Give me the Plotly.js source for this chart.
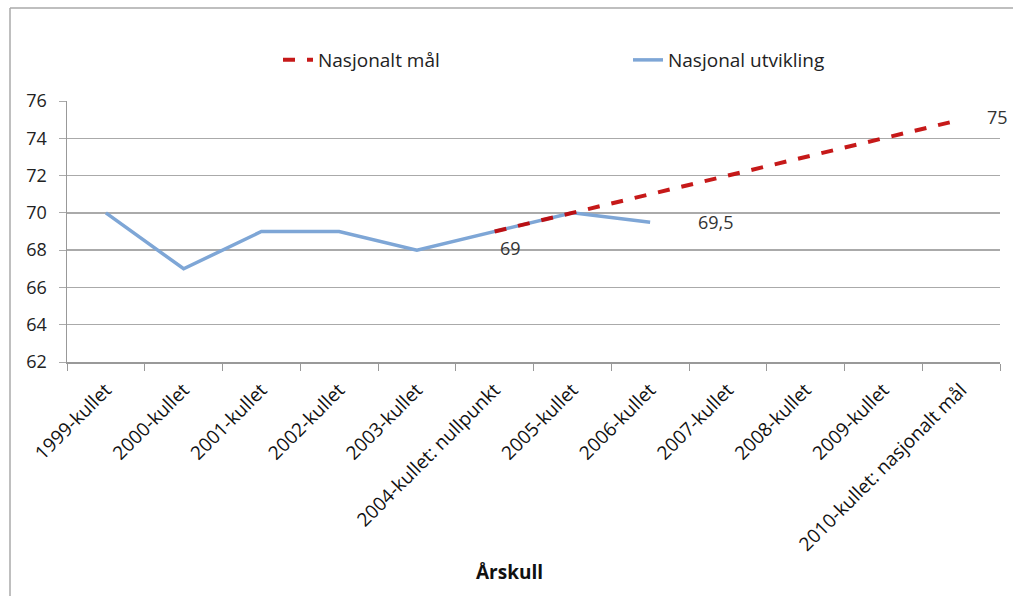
<!DOCTYPE html>
<html>
<head>
<meta charset="utf-8">
<script src="https://cdn.plot.ly/plotly-3.0.1.min.js"></script>
<style>html,body{margin:0;padding:0;background:#fff;}#chart{width:1013px;height:596px;}</style>
</head>
<body>
<div id="chart"></div>
<script>
const categories = ["1999-kullet","2000-kullet","2001-kullet","2002-kullet","2003-kullet","2004-kullet: nullpunkt","2005-kullet","2006-kullet","2007-kullet","2008-kullet","2009-kullet","2010-kullet: nasjonalt mål"];
const utviklingX = ["1999-kullet","2000-kullet","2001-kullet","2002-kullet","2003-kullet","2004-kullet: nullpunkt","2005-kullet","2006-kullet"];
const utviklingY = [70, 67, 69, 69, 68, 69, 70, 69.5];
const maalX = ["2004-kullet: nullpunkt","2005-kullet","2006-kullet","2007-kullet","2008-kullet","2009-kullet","2010-kullet: nasjonalt mål"];
const maalY = [69, 70, 71, 72, 73, 74, 75];
const yTicks = [62, 64, 66, 68, 70, 72, 74, 76];

const font = "'Open Sans', Lato, sans-serif";
const traces = [
  {x: utviklingX, y: utviklingY, type: "scatter", mode: "lines", name: "Nasjonal utvikling",
   line: {color: "#7EA6D6", width: 3.5}, legendrank: 2, hoverinfo: "skip"},
  {x: maalX, y: maalY, type: "scatter", mode: "lines", name: "Nasjonalt mål",
   line: {color: "#C00000", width: 4, dash: "dash"}, legendrank: 1, hoverinfo: "skip", opacity: 0.9}
];
const annotations = [
  {x: maalX[0], y: maalY[0], text: String(maalY[0]), showarrow: false, xshift: 16, yshift: -16, font: {family: font, size: 18, color: "#333"}},
  {x: utviklingX[7], y: utviklingY[7], text: String(utviklingY[7]).replace(".", ","), showarrow: false, xanchor: "left", xshift: 46, yshift: 0, font: {family: font, size: 18, color: "#333"}},
  {x: maalX[6], y: maalY[6], text: String(maalY[6]), showarrow: false, xanchor: "left", xshift: 24, yshift: 3, font: {family: font, size: 18, color: "#333"}},
  {xref: "paper", yref: "paper", x: (509-67)/933, y: -(572-362)/261, xanchor: "center", yanchor: "middle", text: "<b>Årskull</b>", showarrow: false, font: {family: font, size: 19, color: "#111"}}
];
const layout = {
  width: 1013, height: 596,
  margin: {l: 67, r: 13, t: 101, b: 234, pad: 0},
  paper_bgcolor: "#fff", plot_bgcolor: "#fff",
  font: {family: font, size: 16, color: "#222"},
  showlegend: true,
  legend: {orientation: "h", x: (278-67)/933, xanchor: "left", y: 1.157, yanchor: "middle",
           entrywidth: 305, entrywidthmode: "pixels", font: {family: font, size: 19, color: "#222"}, itemwidth: 30},
  xaxis: {type: "category", categoryorder: "array", categoryarray: categories,
          range: [-0.5, 11.5], tickangle: -45, tickson: "boundaries", ticks: "outside", ticklen: 7,
          tickcolor: "#999", showline: true, linecolor: "#999", linewidth: 1.5, showgrid: false,
          ticklabelstandoff: 8,
          tickfont: {family: font, size: 19, color: "#111"}, fixedrange: true},
  yaxis: {range: [62, 76], tickvals: yTicks, ticktext: yTicks.map(String), ticks: "outside", ticklen: 7,
          tickcolor: "#aaa", showline: true, linecolor: "#999", linewidth: 1.5, gridcolor: "#aaa", gridwidth: 1.3,
          ticklabelstandoff: 8,
          zeroline: false, tickfont: {family: font, size: 18, color: "#222"}, fixedrange: true},
  annotations: annotations,
  shapes: [
    {type: "line", xref: "paper", yref: "paper", x0: -(67-10)/933, x1: (1013-67)/933, y0: (362-8)/261, y1: (362-8)/261, line: {color: "#aaa", width: 1.5}},
    {type: "line", xref: "paper", yref: "paper", x0: -(67-10)/933, x1: -(67-10)/933, y0: (362-8)/261, y1: -(596-362)/261, line: {color: "#aaa", width: 1.5}}
  ]
};
Plotly.newPlot("chart", traces, layout, {displayModeBar: false, staticPlot: true});
</script>
</body>
</html>
